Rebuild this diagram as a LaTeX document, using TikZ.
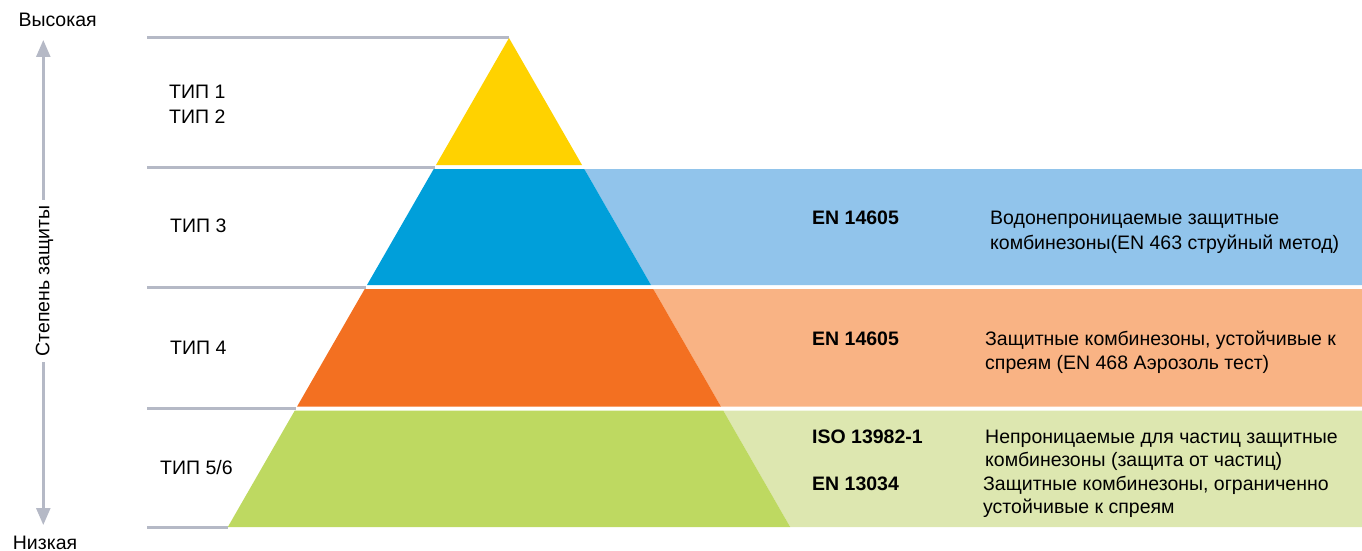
\documentclass[tikz,border=0pt]{standalone}
\usepackage{fontspec}
\setmainfont{Liberation Sans}
\usetikzlibrary{arrows.meta}
\definecolor{cyel}{HTML}{FFD200}
\definecolor{cblue}{HTML}{009FDA}
\definecolor{corange}{HTML}{F37021}
\definecolor{cgreen}{HTML}{BED961}
\definecolor{lblue}{HTML}{91C4EB}
\definecolor{lorange}{HTML}{F9B384}
\definecolor{lgreen}{HTML}{DDE7B0}
\definecolor{cgray}{HTML}{B5B9C6}
\tikzset{
  txt/.style={anchor=base west, inner sep=0pt, font=\fontsize{19.5}{24}\selectfont},
  btxt/.style={txt, font=\fontsize{19.5}{24}\selectfont\bfseries},
  guide/.style={draw=cgray, line width=3pt},
}
\begin{document}
\begin{tikzpicture}[x=1pt,y=-1pt]
\useasboundingbox (0,0) rectangle (1362,551);
% light bands
\fill[lblue] (584.3,169) -- (1362,169) -- (1362,285) -- (651,285) -- cycle;
\fill[lorange] (653.3,289) -- (1362,289) -- (1362,406.5) -- (720.9,406.5) -- cycle;
\fill[lgreen] (723.2,410.5) -- (1362,410.5) -- (1362,527) -- (790.2,527) -- cycle;
% guide lines
\coordinate (g1a) at (147,38);   \coordinate (g1b) at (509,38);
\coordinate (g2a) at (147,167);  \coordinate (g2b) at (435,167);
\coordinate (g3a) at (147,287);  \coordinate (g3b) at (366,287);
\coordinate (g4a) at (147,408.5);\coordinate (g4b) at (296,408.5);
\coordinate (g5a) at (147,527);  \coordinate (g5b) at (228,527);
\draw[guide] (g1a) -- (g1b);
\draw[guide] (g2a) -- (g2b);
\draw[guide] (g3a) -- (g3b);
\draw[guide] (g4a) -- (g4b);
\draw[guide] (g5a) -- (g5b);
% pyramid
\fill[cyel] (509,38) -- (582,165) -- (436,165) -- cycle;
\fill[cblue] (433.7,169) -- (584.3,169) -- (651,285) -- (367,285) -- cycle;
\fill[corange] (364.7,289) -- (653.3,289) -- (720.9,406.5) -- (297.1,406.5) -- cycle;
\fill[cgreen] (294.8,410.5) -- (723.2,410.5) -- (790.2,527) -- (227.8,527) -- cycle;
% axis
\coordinate (atop) at (43.3,40);
\coordinate (abot) at (43.3,525);
\draw[cgray, line width=2.5pt, {Triangle[width=14pt,length=17pt]}-{Triangle[width=14pt,length=17pt]}] (atop) -- (abot);
\node[rotate=90, fill=white, inner xsep=5pt, inner ysep=2pt, font=\fontsize{19.5}{24}\selectfont] (axis) at (44.5,281) {Степень защиты};
\node[txt] (high) at (18.3,26.7) {Высокая};
\node[txt] (low) at (12.7,549) {Низкая};
% type labels
\node[txt] (t1) at (169,99) {ТИП 1};
\node[txt] (t2) at (169,123) {ТИП 2};
\node[txt] (t3) at (170,232.7) {ТИП 3};
\node[txt] (t4) at (170,354) {ТИП 4};
\node[txt] (t56) at (160,474) {ТИП 5/6};
% standards
\node[btxt] (s3) at (812,224) {EN 14605};
\node[txt] (d3a) at (990,224) {Водонепроницаемые защитные};
\node[txt] (d3b) at (990,249) {комбинезоны(EN 463 струйный метод)};
\node[btxt] (s4) at (812,345) {EN 14605};
\node[txt] (d4a) at (985,345) {Защитные комбинезоны, устойчивые к};
\node[txt] (d4b) at (985,369) {спреям (EN 468 Аэрозоль тест)};
\node[btxt] (s5) at (812,443) {ISO 13982-1};
\node[txt] (d5a) at (985,443) {Непроницаемые для частиц защитные};
\node[txt] (d5b) at (985,466) {комбинезоны (защита от частиц)};
\node[btxt] (s6) at (812,490) {EN 13034};
\node[txt] (d6a) at (983,490) {Защитные комбинезоны, ограниченно};
\node[txt] (d6b) at (983,513) {устойчивые к спреям};
\end{tikzpicture}
\end{document}
